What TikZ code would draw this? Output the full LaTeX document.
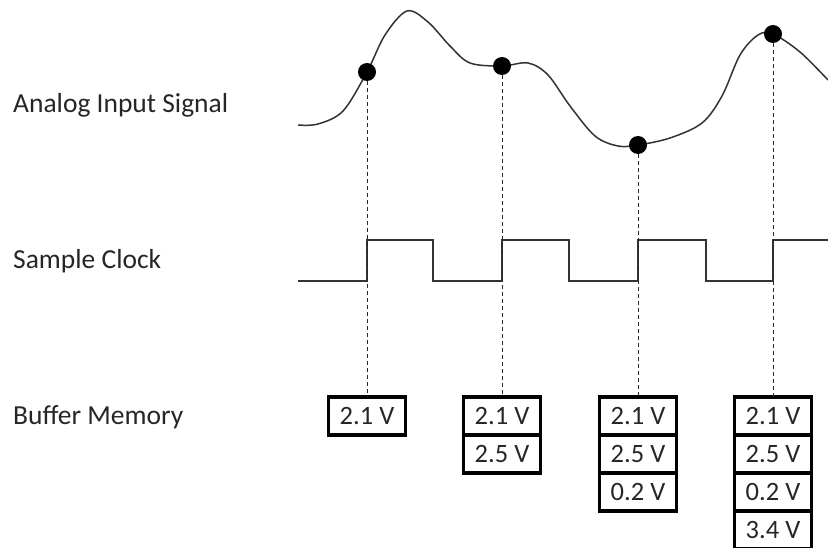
\documentclass[tikz,border=0pt]{standalone}
\usepackage{fontspec}
\setmainfont{Carlito}
\usetikzlibrary{positioning}

\tikzset{
  sig/.style={line width=1.5pt, black!80},
  guide/.style={line width=0.9pt, dash pattern=on 4pt off 3pt, black!85},
  sample/.style={circle, fill=black, inner sep=0pt, minimum size=18pt},
  cell/.style={draw, line width=3.5pt, minimum width=77pt, minimum height=38pt,
    inner sep=0pt, outer sep=0pt, text=black!85, font=\fontsize{26.5}{30}\selectfont},
  lbl/.style={anchor=base west, inner sep=0pt, text=black!85, font=\fontsize{27.5}{32}\selectfont}
}

\begin{document}
\begin{tikzpicture}[x=1pt,y=-1pt,node distance=0pt]
\useasboundingbox (0,0) rectangle (828,548);
% row labels
\node[lbl] (ain) at (13,113) {Analog Input Signal};
\node[lbl] (clk) at (13,269) {Sample Clock};
\node[lbl] (buf) at (13,424) {Buffer Memory};
% analog signal
\draw[sig] plot[smooth, tension=0.55] coordinates {(298,125) (318,124) (343,111) (367,72)
  (385,35) (407,11) (428,22) (450,46) (470,63) (502,66) (528,63) (548,75) (570,106)
  (595,136) (618,146) (638,145) (670,138) (702,123) (722,96) (740,55) (758,35) (773,34)
  (800,52) (828,80)};
% sample clock
\draw[sig] (298,281) -| (367,240) -| (433,281) -| (502,240) -| (569,281) -| (638,240)
  -| (706,281) -| (773,240) -- (828,240);
% buffer memory
\node[cell] (m11) at (367,416) {2.1 V};
\node[cell] (m21) at (502,416) {2.1 V};
\node[cell, below=of m21] (m22) {2.5 V};
\node[cell] (m31) at (638,416) {2.1 V};
\node[cell, below=of m31] (m32) {2.5 V};
\node[cell, below=of m32] (m33) {0.2 V};
\node[cell] (m41) at (773,416) {2.1 V};
\node[cell, below=of m41] (m42) {2.5 V};
\node[cell, below=of m42] (m43) {0.2 V};
\node[cell, below=of m43] (m44) {3.4 V};
% samples
\node[sample] (s1) at (367,72) {};
\node[sample] (s2) at (502,66) {};
\node[sample] (s3) at (638,145) {};
\node[sample] (s4) at (773,34) {};
\draw[guide] (s1) -- (m11);
\draw[guide] (s2) -- (m21);
\draw[guide] (s3) -- (m31);
\draw[guide] (s4) -- (m41);
\end{tikzpicture}
\end{document}
